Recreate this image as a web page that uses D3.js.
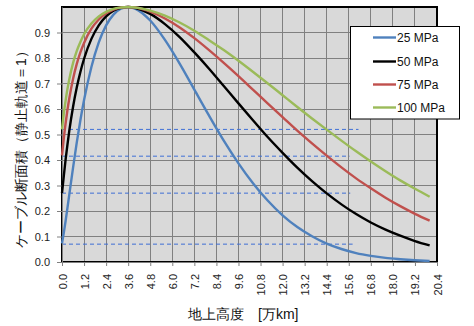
<!DOCTYPE html>
<html><head><meta charset="utf-8">
<script src="https://cdn.jsdelivr.net/npm/d3@7"></script>
<style>
html,body{margin:0;padding:0;background:#fff;}
svg{display:block;}
text{font-family:"Liberation Sans",Arial,sans-serif;}
</style></head>
<body>
<script>
// Data
const heights = [0,0.1,0.2,0.3,0.4,0.6,0.8,1.0,1.2,1.6,2.0,2.4,2.8,3.2,3.6,4.0,4.8,5.6,6.4,7.2,8.0,8.8,9.6,10.4,11.2,12.0,12.8,13.6,14.4,15.2,16.0,16.8,17.6,18.4,19.2,20.0];
const s25  = [0.073,0.115,0.163,0.214,0.266,0.369,0.467,0.556,0.635,0.765,0.861,0.928,0.970,0.993,1.0,0.993,0.947,0.871,0.778,0.676,0.574,0.476,0.387,0.308,0.240,0.183,0.137,0.101,0.072,0.051,0.035,0.024,0.016,0.011,0.007,0.004];
const s50  = [0.270,0.339,0.404,0.462,0.516,0.608,0.683,0.745,0.797,0.875,0.928,0.963,0.985,0.997,1.0,0.996,0.973,0.933,0.882,0.822,0.758,0.690,0.622,0.555,0.489,0.428,0.370,0.317,0.269,0.226,0.188,0.155,0.127,0.103,0.082,0.065];
const s75  = [0.418,0.487,0.546,0.598,0.643,0.718,0.776,0.822,0.859,0.915,0.951,0.975,0.990,0.998,1.0,0.998,0.982,0.955,0.920,0.878,0.831,0.781,0.729,0.675,0.621,0.568,0.515,0.465,0.417,0.371,0.328,0.289,0.252,0.219,0.189,0.162];
const s100 = [0.520,0.583,0.635,0.680,0.718,0.780,0.827,0.863,0.893,0.935,0.963,0.981,0.993,0.998,1.0,0.998,0.986,0.966,0.939,0.907,0.870,0.831,0.789,0.745,0.700,0.654,0.608,0.563,0.519,0.476,0.434,0.394,0.356,0.320,0.287,0.256];
const seriesNames = ["25 MPa","50 MPa","75 MPa","100 MPa"];
const seriesValues = [s25, s50, s75, s100];
const seriesColors = ["#4F81BD","#000000","#C0504D","#9BBB59"];
const xTickLabels = ["0.0","1.2","2.4","3.6","4.8","6.0","7.2","8.4","9.6","10.8","12.0","13.2","14.4","15.6","16.8","18.0","19.2","20.4"];
const yTickLabels = ["0.0","0.1","0.2","0.3","0.4","0.5","0.6","0.7","0.8","0.9"];
const refLevels = [0.52, 0.415, 0.27, 0.07];
const refEnds   = [16.13, 15.64, 15.68, 15.81];
const xTitle = "地上高度\u3000[万km]";
const yTitle = "ケーブル断面積（静止軌道＝1）";

const W = 474, H = 326;
const L = 62, R = 437, T = 7, B = 262;

const svg = d3.select("body").append("svg").attr("width", W).attr("height", H);
svg.append("rect").attr("width", W).attr("height", H).attr("fill", "#fff");

const x = d3.scaleLinear().domain([0, 20.4]).range([L, R]);
const y = d3.scaleLinear().domain([0, 1.0]).range([B, T]);

// plot background
svg.append("rect").attr("x", L).attr("y", T).attr("width", R - L).attr("height", B - T)
  .attr("fill", "#D9D9D9");

const xTickVals = xTickLabels.map(Number);
const yTickVals = yTickLabels.map(Number);

// gridlines
const grid = svg.append("g").attr("stroke", "#808080").attr("stroke-width", 1).attr("shape-rendering", "crispEdges");
grid.selectAll(".gx").data(xTickVals.slice(1)).enter().append("line")
  .attr("x1", d => x(d)).attr("x2", d => x(d)).attr("y1", T).attr("y2", B);
grid.selectAll(".gy").data(yTickVals.slice(1)).enter().append("line")
  .attr("x1", L).attr("x2", R).attr("y1", d => y(d)).attr("y2", d => y(d));

// plot border
svg.append("rect").attr("x", L).attr("y", T).attr("width", R - L).attr("height", B - T)
  .attr("fill", "none").attr("stroke", "#000").attr("stroke-width", 1.2).attr("shape-rendering", "crispEdges");

// reference dashed lines
svg.append("g").selectAll("line").data(refLevels).enter().append("line")
  .attr("x1", x(0)).attr("x2", (d, i) => x(refEnds[i]))
  .attr("y1", d => y(d)).attr("y2", d => y(d))
  .attr("stroke", "#3F6FD6").attr("stroke-width", 1).attr("stroke-dasharray", "4,3");

// axes
const xAxis = d3.axisBottom(x).tickValues(xTickVals).tickFormat((d, i) => xTickLabels[i]).tickSize(4).tickSizeOuter(0);
const gx = svg.append("g").attr("transform", `translate(0,${B})`).call(xAxis);
gx.select(".domain").attr("stroke", "#808080");
gx.selectAll(".tick line").attr("stroke", "#808080");
gx.selectAll(".tick text")
  .attr("font-size", 11).attr("fill", "#222")
  .attr("text-anchor", "end").attr("dy", null).attr("y", 0).attr("x", 0)
  .attr("dominant-baseline", "central")
  .attr("transform", "translate(0,12) rotate(-90)");

const yAxis = d3.axisLeft(y).tickValues(yTickVals).tickFormat((d, i) => yTickLabels[i]).tickSize(5).tickSizeOuter(0);
const gy = svg.append("g").attr("transform", `translate(${L},0)`).call(yAxis);
gy.select(".domain").attr("stroke", "#808080");
gy.selectAll(".tick line").attr("stroke", "#808080");
gy.selectAll(".tick text").attr("font-size", 11).attr("fill", "#222").attr("x", -12);

// series lines
const line = d3.line().x((d, i) => x(heights[i])).y(d => y(d)).curve(d3.curveMonotoneX);
svg.append("g").selectAll("path").data(seriesValues).enter().append("path")
  .attr("d", d => line(d)).attr("fill", "none")
  .attr("stroke", (d, i) => seriesColors[i]).attr("stroke-width", 2.4)
  .attr("stroke-linejoin", "round");

// legend
const lg = svg.append("g");
lg.append("rect").attr("x", 350.5).attr("y", 26.5).attr("width", 109).attr("height", 92.5)
  .attr("fill", "#fff").attr("stroke", "#000").attr("stroke-width", 1);
const rowsY = [37.5, 61.5, 84.5, 107.5];
seriesNames.forEach((n, i) => {
  lg.append("line").attr("x1", 373).attr("x2", 396).attr("y1", rowsY[i]).attr("y2", rowsY[i])
    .attr("stroke", seriesColors[i]).attr("stroke-width", 2.4);
  lg.append("text").attr("x", 397).attr("y", rowsY[i]).attr("dominant-baseline", "central")
    .attr("font-size", 12).attr("fill", "#111").text(n);
});

// axis titles
svg.append("text").attr("x", 188).attr("y", 319)
  .attr("font-family", "'Noto Sans CJK JP', sans-serif").attr("font-size", 14).attr("fill", "#111")
  .text(xTitle);
svg.append("text").attr("transform", "translate(21,146) rotate(-90)")
  .attr("text-anchor", "middle").attr("dominant-baseline", "central")
  .attr("font-family", "'Noto Sans CJK JP', sans-serif").attr("font-size", 14).attr("fill", "#111")
  .text(yTitle);
</script>
</body></html>
